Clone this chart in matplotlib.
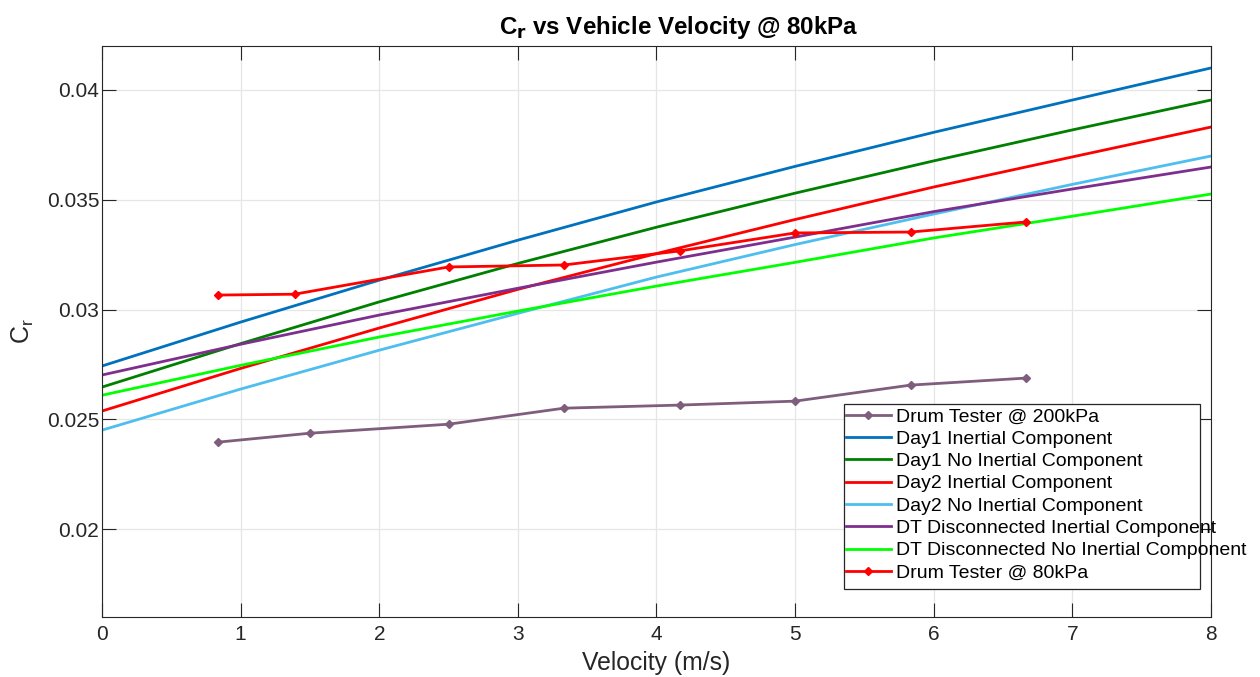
import numpy as np
import matplotlib
matplotlib.use("Agg")
import matplotlib.pyplot as plt
from matplotlib.patches import Rectangle

plt.rcParams['font.family'] = ['Liberation Sans', 'DejaVu Sans']

# drum tester measurements
v_drum200 = [0.833, 1.5, 2.5, 3.333, 4.167, 5.0, 5.833, 6.667]
cr_drum200 = [0.02396, 0.02437, 0.02478, 0.02551, 0.02565, 0.02583, 0.02656, 0.02688]
v_drum80 = [0.833, 1.389, 2.5, 3.333, 4.167, 5.0, 5.833, 6.667]
cr_drum80 = [0.03066, 0.0307, 0.03194, 0.03203, 0.03267, 0.03349, 0.03353, 0.03399]

v_fit = [0, 1, 2, 3, 4, 5, 6, 7, 8]
cr_day1_inertial = [0.02743, 0.02943, 0.03134, 0.03316, 0.03490, 0.03652, 0.03807, 0.03954, 0.04100]
cr_day1_no_inertial = [0.02647, 0.02845, 0.03035, 0.03210, 0.03375, 0.03530, 0.03677, 0.03818, 0.03954]
cr_day2_inertial = [0.02538, 0.02732, 0.02916, 0.03092, 0.03255, 0.03410, 0.03558, 0.03695, 0.03831]
cr_day2_no_inertial = [0.02451, 0.02638, 0.02815, 0.02983, 0.03148, 0.03296, 0.03435, 0.03570, 0.03699]
cr_dt_inertial = [0.02702, 0.02842, 0.02975, 0.03097, 0.03216, 0.03330, 0.03446, 0.03549, 0.03649]
cr_dt_no_inertial = [0.02610, 0.02746, 0.02875, 0.02993, 0.03107, 0.03215, 0.03326, 0.03425, 0.03526]

fig = plt.figure(figsize=(12.6, 6.77), dpi=100)
ax = fig.add_axes([0.081, 0.0886, 0.880, 0.8434])

ax.plot(v_drum200, cr_drum200, '-D', color='#7E5E7C', lw=2, ms=4.5,
        label='Drum Tester @ 200kPa')
ax.plot(v_fit, cr_day1_inertial, color='#0072BD', lw=2, label='Day1 Inertial Component')
ax.plot(v_fit, cr_day1_no_inertial, color='#008000', lw=2, label='Day1 No Inertial Component')
ax.plot(v_fit, cr_day2_inertial, color='#FF0000', lw=2, label='Day2 Inertial Component')
ax.plot(v_fit, cr_day2_no_inertial, color='#4DBEEE', lw=2, label='Day2 No Inertial Component')
ax.plot(v_fit, cr_dt_inertial, color='#7E2F8E', lw=2, label='DT Disconnected Inertial Component')
ax.plot(v_fit, cr_dt_no_inertial, color='#00FF00', lw=2, label='DT Disconnected No Inertial Component')
ax.plot(v_drum80, cr_drum80, '-D', color='#FF0000', lw=2, ms=4.5,
        label='Drum Tester @ 80kPa')

ax.set_xlim(0, 8)
ax.set_ylim(0.016, 0.042)
ax.set_xticks(range(0, 9))
ax.set_yticks([0.02, 0.025, 0.03, 0.035, 0.04])
ax.set_yticklabels(['0.02', '0.025', '0.03', '0.035', '0.04'])
ax.tick_params(direction='in', top=True, right=True, length=10, labelsize=15,
               colors='#262626')
ax.tick_params(axis='x', pad=6)
ax.tick_params(axis='y', pad=2)
ax.grid(True, color='#e6e6e6', lw=0.9)
for s in ax.spines.values():
    s.set_color('#262626')

ax.set_xlabel('Velocity (m/s)', fontsize=17.8, color='#262626', labelpad=5)
ax.set_ylabel('C$_\\mathregular{r}$', fontsize=18, color='#262626', labelpad=8)
ax.set_title('C$_\\mathbf{r}$ vs Vehicle Velocity @ 80kPa', fontsize=17.4,
             fontweight='bold', pad=9, x=0.52)

# MATLAB-style legend: box narrower than the longest entry
box = Rectangle((0.669, 0.049), 0.321, 0.324, transform=ax.transAxes,
                facecolor='white', edgecolor='#262626', lw=0.9, zorder=4)
ax.add_patch(box)
leg = ax.legend(loc='upper left', bbox_to_anchor=(0.671, 0.366), fontsize=14,
                frameon=False, borderpad=0, labelspacing=0.24, handlelength=2.3,
                handletextpad=0.25, borderaxespad=0)
leg.set_zorder(5)

fig.savefig('out.png', dpi=100)
